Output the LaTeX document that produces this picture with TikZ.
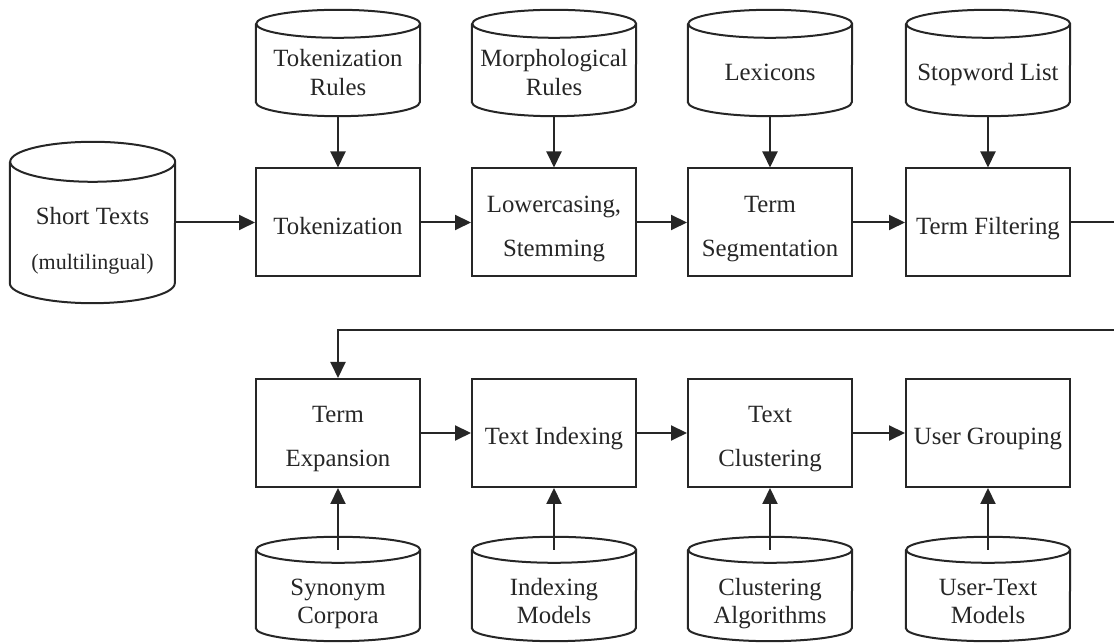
\documentclass[tikz,border=0pt]{standalone}
\usepackage{fontspec}
\setmainfont{Liberation Serif}
\usetikzlibrary{arrows.meta}
\newcommand\cyl[4]{% name, x radius, y radius, top offset
  \draw[ln] ([yshift=#4pt]#1.north west) -- ([yshift=#3pt]#1.south west)
    arc[start angle=180, end angle=360, x radius=#2pt, y radius=#3pt]
    -- ([yshift=#4pt]#1.north east)
    arc[start angle=0, end angle=360, x radius=#2pt, y radius=#3pt];
}
% fixed-size text blocks: height above first baseline, depth below it
\newcommand\txtone[2]{\raisebox{0pt}[#1][6pt]{#2}}
\newcommand\txttwo[4]{\raisebox{0pt}[#1][#2]{\begin{tabular}[t]{@{}c@{}}#3\\#4\end{tabular}}}
\begin{document}
\begin{tikzpicture}[x=1pt,y=1pt,
  ln/.style={line width=2pt, draw=black!85},
  arr/.style={ln, -{Triangle[length=16pt,width=15pt]}},
  procbox/.style={ln, rectangle, minimum width=164pt, minimum height=108pt, inner sep=0pt,
    text=black!85, font=\fontsize{24.8}{44}\selectfont},
  topdb/.style={rectangle, minimum width=164pt, minimum height=88pt, inner sep=0pt,
    text=black!85, font=\fontsize{24.8}{29}\selectfont},
  botdb/.style={rectangle, minimum width=164pt, minimum height=80pt, inner sep=0pt,
    text=black!85, font=\fontsize{24.8}{28}\selectfont}]
\useasboundingbox (0,0) rectangle (1114,644);

% source
\node[rectangle, minimum width=165pt, minimum height=127pt, inner sep=0pt,
  text=black!85, font=\fontsize{24.8}{45}\selectfont] (st) at (92.5,404.5)
  {\txttwo{22pt}{51pt}{Short Texts}{{\fontsize{22}{26}\selectfont(multilingual)}}};
\cyl{st}{82.5}{20}{14}

% row 1
\node[procbox] (tok) at (338,421.5) {\txtone{30pt}{Tokenization}};
\node[procbox] (low) at (554,421.5) {\txttwo{30pt}{50pt}{Lowercasing,}{Stemming}};
\node[procbox] (seg) at (770,421.5) {\txttwo{30pt}{50pt}{Term}{Segmentation}};
\node[procbox] (tf)  at (988,421.5) {\txtone{30pt}{Term Filtering}};

% top resources
\node[topdb] (r1) at (338,572) {\txttwo{24pt}{35pt}{Tokenization}{Rules}};
\node[topdb] (r2) at (554,572) {\txttwo{24pt}{35pt}{Morphological}{Rules}};
\node[topdb] (r3) at (770,572) {\txtone{24pt}{Lexicons}};
\node[topdb] (r4) at (988,572) {\txtone{24pt}{Stopword List}};
\foreach \n in {r1,r2,r3,r4} {\cyl{\n}{82}{14}{4}}

% row 2
\node[procbox] (te) at (338,211) {\txttwo{30pt}{50pt}{Term}{Expansion}};
\node[procbox] (ti) at (554,211) {\txtone{30pt}{Text Indexing}};
\node[procbox] (tc) at (770,211) {\txttwo{30pt}{50pt}{Text}{Clustering}};
\node[procbox] (ug) at (988,211) {\txtone{30pt}{User Grouping}};

% bottom resources
\node[botdb] (b1) at (338,43) {\txttwo{24pt}{34pt}{Synonym}{Corpora}};
\node[botdb] (b2) at (554,43) {\txttwo{24pt}{34pt}{Indexing}{Models}};
\node[botdb] (b3) at (770,43) {\txttwo{24pt}{34pt}{Clustering}{Algorithms}};
\node[botdb] (b4) at (988,43) {\txttwo{24pt}{34pt}{User-Text}{Models}};
\foreach \n in {b1,b2,b3,b4} {\cyl{\n}{82}{13}{11}}

% connectors
\draw[arr] (st.east |- tok.west) -- (tok.west);
\draw[arr] (tok) -- (low);
\draw[arr] (low) -- (seg);
\draw[arr] (seg) -- (tf);
\draw[arr] (r1) -- (tok);
\draw[arr] (r2) -- (low);
\draw[arr] (r3) -- (seg);
\draw[arr] (r4) -- (tf);

\coordinate (w1) at (1130,421.5);
\coordinate (w2) at (1130,314);
\draw[arr] (tf.east) -- (w1) -- (w2) -| (te.north);

\draw[arr] (te) -- (ti);
\draw[arr] (ti) -- (tc);
\draw[arr] (tc) -- (ug);
\draw[arr] ([yshift=11pt]b1.north) -- (te.south);
\draw[arr] ([yshift=11pt]b2.north) -- (ti.south);
\draw[arr] ([yshift=11pt]b3.north) -- (tc.south);
\draw[arr] ([yshift=11pt]b4.north) -- (ug.south);
\end{tikzpicture}
\end{document}
